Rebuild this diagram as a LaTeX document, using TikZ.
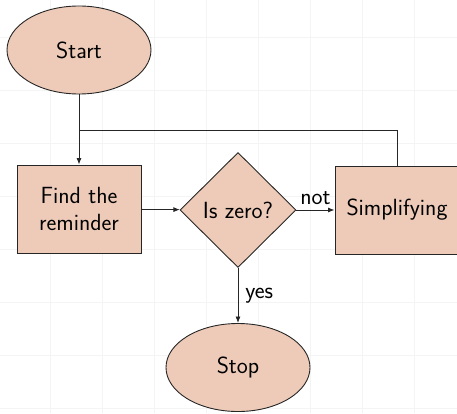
\documentclass[tikz,border=0pt]{standalone}
\usepackage{fontspec}
\usetikzlibrary{shapes.geometric,arrows.meta}
\definecolor{peach}{RGB}{238,203,185}
\definecolor{gridc}{RGB}{244,244,244}
\begin{document}
\begin{tikzpicture}[x=1pt,y=1pt,
  font=\sffamily\fontsize{23.4}{27}\selectfont,
  every node/.style={inner sep=0pt},
  base/.style={draw=black!85, line width=0.9pt, fill=peach, align=center},
  terminal/.style={base, ellipse, minimum width=144pt, minimum height=88pt},
  process/.style={base, rectangle, minimum width=124pt, minimum height=88pt},
  decision/.style={base, diamond, aspect=1, minimum width=116pt, minimum height=115pt},
  link/.style={draw=black!85, line width=0.8pt},
  flow/.style={link, -{Latex[length=6.5pt,width=5pt]}},
  lbl/.style={font=\sffamily\fontsize{23.4}{27}\selectfont}]
  \useasboundingbox (0,0) rectangle (457,413);
  % faint background grid
  \foreach \gx in {50,102,154,206,258,310,362,414}
    \draw[gridc, line width=0.8pt] (\gx,0) -- (\gx,413);
  \foreach \gy in {5,58,111,164,217,270,323,376}
    \draw[gridc, line width=0.8pt] (0,\gy) -- (457,\gy);

  % nodes
  \node[terminal] (start) at (79,363) {Start};
  \node[process]  (find)  at (79,204) {Find the\\reminder};
  \node[decision] (zero)  at (238,203) {Is zero?};
  \node[process]  (simp)  at (397,203) {Simplifying};
  \node[terminal] (stop)  at (238,45.5) {Stop};
  \coordinate (join) at (79,283);

  % connectors
  \draw[flow] (start) -- (find);
  \draw[flow] (find) -- (zero);
  \draw[flow] (zero) -- node[lbl, above=5pt, pos=0.5] {not} (simp);
  \draw[flow] (zero) -- node[lbl, right=7pt, pos=0.5] {yes} (stop);
  \draw[link] (simp.north) |- (join);
\end{tikzpicture}
\end{document}
